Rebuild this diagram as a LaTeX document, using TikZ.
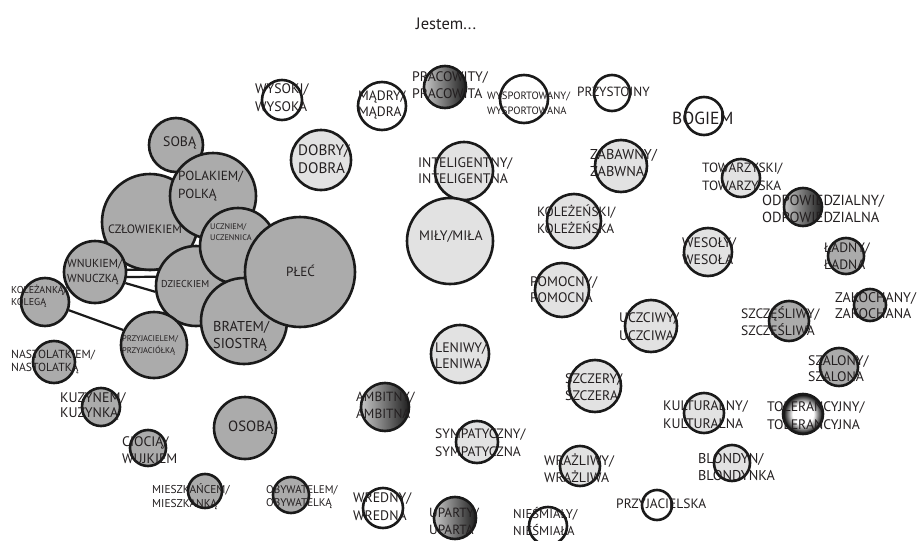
\documentclass[tikz,border=0pt]{standalone}
\usepackage{fontspec}
\setmainfont{PT Sans}
\definecolor{gA}{RGB}{171,171,171}
\definecolor{gL}{RGB}{226,226,226}
\definecolor{linec}{RGB}{26,26,26}
\definecolor{txtc}{RGB}{35,31,32}
\newcommand\fs[2]{\fontsize{#1}{#2}\selectfont}
\pgfdeclareradialshading{tolshade}{\pgfpoint{0bp}{0bp}}{color(0bp)=(white); color(13bp)=(white); color(25bp)=(black); color(50bp)=(black)}
\tikzset{
  bub/.style={circle, draw=linec, line width=2.6pt, inner sep=0pt},
  dk/.style={bub, fill=gA},
  lt/.style={bub, fill=gL},
  wh/.style={bub, fill=white},
  gr/.style={bub, left color=black!22, right color=black!88},
  rd/.style={bub, shading=tolshade},
  lab/.style={anchor=west, align=left, inner sep=0pt, text=txtc},
  conn/.style={draw=linec, line width=2.2pt},
}
\begin{document}
\begin{tikzpicture}[x=1pt,y=-1pt]
\useasboundingbox[fill=white] (0,0) rectangle (919,541);
\node[lab, anchor=center, font=\fs{16.5}{19}] (title) at (446,24) {Jestem...};
% ---- gray cluster
\node[dk, minimum size=54pt] (sob) at (176,145) {};
\node[dk, minimum size=96pt] (czl) at (150,222) {};
\node[dk, minimum size=86pt] (pol) at (213,196) {};
\node[dk, minimum size=80pt] (dzi) at (196,286) {};
\node[dk, minimum size=76pt] (ucz) at (238,246) {};
\node[dk, minimum size=86pt] (bra) at (244,321) {};
\node[dk, minimum size=110pt] (ple) at (300,272) {};
\node[dk, minimum size=62pt] (wnu) at (95,272) {};
\node[dk, minimum size=48pt] (kol) at (45,302) {};
\node[dk, minimum size=66pt] (prz) at (154,345) {};
\node[dk, minimum size=42pt] (nas) at (54,362) {};
\node[dk, minimum size=38pt] (kuz) at (101,407) {};
\node[dk, minimum size=36pt] (cio) at (148,448) {};
\node[dk, minimum size=62pt] (oso) at (245,428) {};
\node[dk, minimum size=34pt] (mie) at (205,491) {};
\node[dk, minimum size=36pt] (oby) at (291,495) {};
\draw[conn] (wnu.4) -- (dzi.157);
\draw[conn] (wnu.-9) -- (dzi.167);
\draw[conn] (wnu.-20) -- (dzi.188);
\draw[conn] (kol.-19) -- (prz.154);
% ---- other bubbles
\node[wh, minimum size=40pt] (wys) at (282,100) {};
\node[wh, minimum size=48pt] (mad) at (382,106) {};
\node[gr, minimum size=42pt] (pra) at (445,87) {};
\node[wh, minimum size=48pt] (wsp) at (524,99) {};
\node[lt, minimum size=60pt] (dob) at (321,160) {};
\node[lt, minimum size=58pt] (int) at (464,171) {};
\node[lt, minimum size=86pt] (mil) at (450,241) {};
\node[wh, minimum size=36pt] (pry) at (612,93) {};
\node[wh, minimum size=38pt] (bog) at (704,116) {};
\node[lt, minimum size=52pt] (zab) at (621,166) {};
\node[lt, minimum size=54pt] (kle) at (574,221) {};
\node[lt, minimum size=38pt] (tow) at (741,178) {};
\node[gr, minimum size=38pt] (odp) at (803,207) {};
\node[lt, minimum size=54pt] (pom) at (562,290) {};
\node[lt, minimum size=48pt] (wes) at (708,252) {};
\node[dk, minimum size=36pt] (lad) at (846,256) {};
\node[dk, minimum size=32pt] (zak) at (870,305) {};
\node[dk, minimum size=40pt] (szc) at (789,321) {};
\node[lt, minimum size=52pt] (uczc) at (651,326) {};
\node[lt, minimum size=58pt] (len) at (460,354) {};
\node[dk, minimum size=38pt] (sza) at (839,367) {};
\node[lt, minimum size=52pt] (szcz) at (595,386) {};
\node[gr, minimum size=48pt] (amb) at (385,407) {};
\node[lt, minimum size=40pt] (kul) at (704,413) {};
\node[rd, minimum size=40pt] (tol) at (803,414) {};
\node[lt, minimum size=42pt] (sym) at (477,442) {};
\node[lt, minimum size=40pt] (wra) at (580,466) {};
\node[lt, minimum size=36pt] (blo) at (732,463) {};
\node[wh, minimum size=40pt] (wre) at (383,508) {};
\node[gr, minimum size=42pt] (upa) at (455,518) {};
\node[wh, minimum size=38pt] (nie) at (548,526) {};
\node[wh, minimum size=30pt] (prj) at (657,505) {};
% ---- labels
\node[lab, font=\fs{13.8}{16}] (sob-t) at (163,143) {SOBĄ};
\node[lab, font=\fs{12.1}{14}] (czl-t) at (108,229) {CZŁOWIEKIEM};
\node[lab, font=\fs{13.2}{18}] (pol-t) at (178,186) {POLAKIEM/\\POLKĄ};
\node[lab, font=\fs{10}{12}] (dzi-t) at (161,284) {DZIECKIEM};
\node[lab, font=\fs{8.2}{11}] (ucz-t) at (210,232) {UCZNIEM/\\UCZENNICA};
\node[lab, font=\fs{14.3}{17}] (bra-t) at (213,336) {BRATEM/\\SIOSTRĄ};
\node[lab, font=\fs{13.2}{15}] (ple-t) at (286,271) {PŁEĆ};
\node[lab, font=\fs{11.6}{15}] (wnu-t) at (67,272) {WNUKIEM/\\WNUCZKĄ};
\node[lab, font=\fs{10}{12}] (kol-t) at (11,296) {KOLEŻANKĄ/\\KOLEGĄ};
\node[lab, font=\fs{8.4}{12}] (prz-t) at (122,345) {PRZYJACIELEM/\\PRZYJACIÓŁKĄ};
\node[lab, font=\fs{11.7}{13.5}] (nas-t) at (11,362) {NASTOLATKIEM/\\NASTOLATKĄ};
\node[lab, font=\fs{13.9}{15}] (kuz-t) at (60,406) {KUZYNEM/\\KUZYNKĄ};
\node[lab, font=\fs{13.8}{17}] (cio-t) at (122,450) {CIOCIĄ/\\WUJKIEM};
\node[lab, font=\fs{14.8}{17}] (oso-t) at (228,428) {OSOBĄ};
\node[lab, font=\fs{11.4}{14}] (mie-t) at (152,497) {MIESZKAŃCEM/\\MIESZKANKĄ};
\node[lab, font=\fs{11.1}{13}] (oby-t) at (266,497) {OBYWATELEM/\\OBYWATELKĄ};
\node[lab, font=\fs{13.8}{18}] (wys-t) at (255,98) {WYSOKI/\\WYSOKA};
\node[lab, font=\fs{13.6}{16}] (mad-t) at (358,105) {MĄDRY/\\MĄDRA};
\node[lab, font=\fs{13.8}{17}] (pra-t) at (412,85) {PRACOWITY/\\PRACOWITA};
\node[lab, font=\fs{10.6}{15}] (wsp-t) at (487,103) {WYSPORTOWANY/\\WYSPORTOWANA};
\node[lab, font=\fs{15.2}{18}] (dob-t) at (298,159) {DOBRY/\\DOBRA};
\node[lab, font=\fs{13.8}{16}] (int-t) at (418,171) {INTELIGENTNY/\\INTELIGENTNA};
\node[lab, font=\fs{13.8}{16}] (mil-t) at (419,237) {MIŁY/MIŁA};
\node[lab, font=\fs{13.3}{15}] (pry-t) at (577,92) {PRZYSTOJNY};
\node[lab, font=\fs{17.5}{20}] (bog-t) at (672,118) {BOGIEM};
\node[lab, font=\fs{14.3}{17}] (zab-t) at (590,163) {ZABAWNY/\\ZABWNA};
\node[lab, font=\fs{13.4}{17}] (kle-t) at (537,219) {KOLEŻEŃSKI/\\KOLEŻEŃSKA};
\node[lab, font=\fs{13.4}{18}] (tow-t) at (702,177) {TOWARZYSKI/\\TOWARZYSKA};
\node[lab, font=\fs{14.6}{17}] (odp-t) at (762,209) {ODPOWIEDZIALNY/\\ODPOWIEDZIALNA};
\node[lab, font=\fs{13.8}{16}] (pom-t) at (530,290) {POMOCNY/\\POMOCNA};
\node[lab, font=\fs{13.8}{17}] (wes-t) at (682,251) {WESOŁY/\\WESOŁA};
\node[lab, font=\fs{13.6}{17}] (lad-t) at (824,256) {ŁADNY/\\ŁADNA};
\node[lab, font=\fs{14}{16}] (zak-t) at (835,306) {ZAKOCHANY/\\ZAKOCHANA};
\node[lab, font=\fs{13.6}{17}] (szc-t) at (741,322) {SZCZĘŚLIWY/\\SZCZĘŚLIWA};
\node[lab, font=\fs{13.8}{18}] (uczc-t) at (619,327) {UCZCIWY/\\UCZCIWA};
\node[lab, font=\fs{13.8}{16}] (len-t) at (435,356) {LENIWY/\\LENIWA};
\node[lab, font=\fs{13.8}{16}] (sza-t) at (808,369) {SZALONY/\\SZALONA};
\node[lab, font=\fs{13.8}{17}] (szcz-t) at (565,387) {SZCZERY/\\SZCZERA};
\node[lab, font=\fs{13.3}{17}] (amb-t) at (356,405) {AMBITNY/\\AMBITNA};
\node[lab, font=\fs{13.8}{18}] (kul-t) at (663,415) {KULTURALNY/\\KULTURALNA};
\node[lab, font=\fs{13.8}{18}] (tol-t) at (767,416) {TOLERANCYJNY/\\TOLERANCYJNA};
\node[lab, font=\fs{13.6}{18}] (sym-t) at (435,443) {SYMPATYCZNY/\\SYMPATYCZNA};
\node[lab, font=\fs{13.8}{17}] (wra-t) at (544,468) {WRAŻLIWY/\\WRAŻLIWA};
\node[lab, font=\fs{14.2}{17}] (blo-t) at (698,467) {BLONDYN/\\BLONDYNKA};
\node[lab, font=\fs{13.8}{18}] (wre-t) at (353,507) {WREDNY/\\WREDNA};
\node[lab, font=\fs{13.3}{17}] (upa-t) at (429,521) {UPARTY/\\UPARTA};
\node[lab, font=\fs{12.8}{17}] (nie-t) at (513,522) {NIEŚMIAŁY/\\NIEŚMIAŁA};
\node[lab, font=\fs{13.5}{15}] (prj-t) at (616,504) {PRZYJACIELSKA};
\end{tikzpicture}
\end{document}
